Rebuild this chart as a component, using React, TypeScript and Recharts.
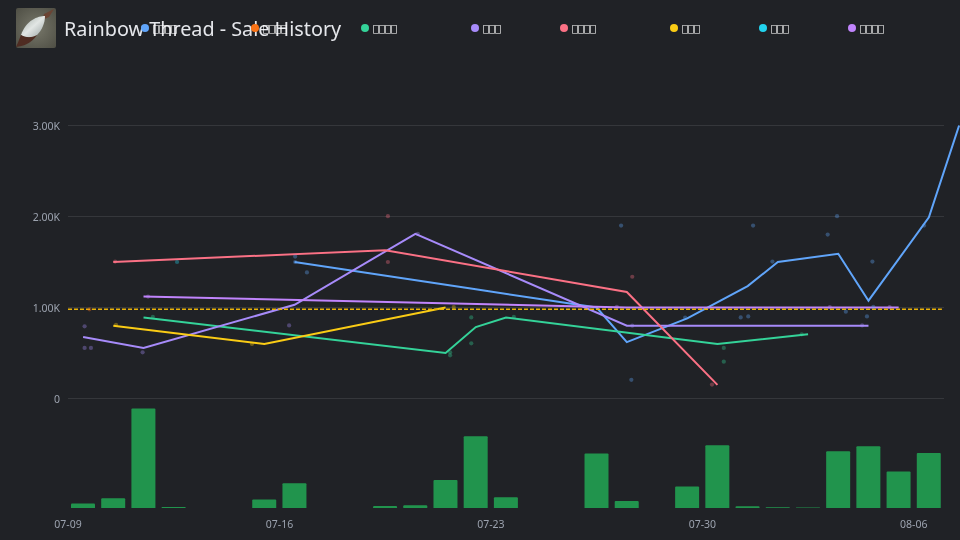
import { Bar, BarChart, CartesianGrid, ComposedChart, Line, ReferenceLine, Scatter, XAxis, YAxis, ZAxis } from 'recharts';

type Point = { day: number; value: number };

const pt = (day: number, value: number): Point => ({ day, value });

// the legend text in the picture is missing-glyph boxes, only the length can be read
const worldNames = ['\uE000\uE000\uE000\uE000', '\uE000\uE000\uE000\uE000', '\uE000\uE000\uE000\uE000', '\uE000\uE000\uE000', '\uE000\uE000\uE000\uE000', '\uE000\uE000\uE000', '\uE000\uE000\uE000', '\uE000\uE000\uE000\uE000'];
const worldColors = ['#60a5fa', '#f97316', '#34d399', '#a78bfa', '#fb7185', '#facc15', '#22d3ee', '#c084fc'];

const dayLabels: Record<number, string> = { 0: '07-09', 7: '07-16', 14: '07-23', 21: '07-30', 28: '08-06' };
const dayTicks = [0, 7, 14, 21, 28];
const priceTicks = [0, 1000, 2000, 3000];
const averagePrice = 980;

// daily average price per world
const dailyBlue = [pt(7.5, 1500), pt(13.5, 1200), pt(17.5, 1000), pt(18.5, 620), pt(20.5, 880), pt(22.5, 1235), pt(23.5, 1500), pt(25.5, 1590), pt(26.5, 1075), pt(28.5, 1990), pt(29.5, 3000)];
const dailyOrange: Point[] = [];
const dailyGreen = [pt(2.5, 890), pt(12.5, 500), pt(13.5, 785), pt(14.5, 890), pt(21.5, 600), pt(24.5, 705)];
const dailyPurple = [pt(0.5, 675), pt(2.5, 555), pt(7.5, 1030), pt(11.5, 1810), pt(18.5, 800), pt(26.5, 800)];
const dailyPink = [pt(1.5, 1500), pt(10.5, 1630), pt(18.5, 1170), pt(21.5, 150)];
const dailyYellow = [pt(1.5, 800), pt(6.5, 600), pt(12.5, 1000)];
const dailyCyan: Point[] = [];
const dailyViolet = [pt(2.5, 1120), pt(18.5, 1000), pt(27.5, 1000)];

// single sales
const salesBlue = [pt(7.52, 1560), pt(7.52, 1500), pt(7.91, 1385), pt(18.31, 1900), pt(18.65, 205), pt(20.43, 888), pt(22.27, 891), pt(22.52, 902), pt(22.68, 1900), pt(23.32, 1505), pt(25.15, 1802), pt(25.46, 2003), pt(25.75, 954), pt(26.45, 902), pt(26.63, 1505), pt(26.66, 1008), pt(28.34, 1900)];
const salesOrange = [pt(0.71, 980)];
const salesGreen = [pt(2.81, 897), pt(12.65, 508), pt(12.65, 475), pt(13.35, 891), pt(13.35, 606), pt(14.76, 896), pt(21.71, 556), pt(21.71, 405), pt(24.29, 705)];
const salesPurple = [pt(0.55, 793), pt(0.55, 556), pt(0.76, 556), pt(2.47, 508), pt(7.32, 803), pt(11.58, 1810), pt(18.68, 800), pt(26.29, 803)];
const salesPink = [pt(1.56, 1505), pt(10.59, 2003), pt(10.59, 1500), pt(18.68, 1338), pt(21.32, 153)];
const salesYellow = [pt(1.59, 810), pt(6.09, 600), pt(12.77, 1005)];
const salesCyan = [pt(3.61, 1500)];
const salesViolet = [pt(2.65, 1120), pt(18.17, 1008), pt(25.22, 1005), pt(27.2, 1005)];

const dailySeries = [dailyBlue, dailyOrange, dailyGreen, dailyPurple, dailyPink, dailyYellow, dailyCyan, dailyViolet];
const salesSeries = [salesBlue, salesOrange, salesGreen, salesPurple, salesPink, salesYellow, salesCyan, salesViolet];

const volumeDays = [0.5, 1.5, 2.5, 3.5, 6.5, 7.5, 10.5, 11.5, 12.5, 13.5, 14.5, 17.5, 18.5, 20.5, 21.5, 22.5, 23.5, 24.5, 25.5, 26.5, 27.5, 28.5];
const volumes = [4.5, 9.7, 99.4, 1, 8.4, 24.7, 2, 2.7, 28, 71.7, 10.7, 54.4, 7, 21.4, 62.7, 1.7, 0.8, 0.6, 56.7, 61.7, 36.4, 55];
const volumeData = volumeDays.map((day, i) => ({ day, volume: volumes[i] }));

const FONT = '"Noto Sans", sans-serif';
const DOMAIN_X: [number, number] = [0, 29.53];
const axisTick = { fill: '#9ca3af', fontSize: 10.5, fontFamily: FONT };

function formatPrice(v: number) {
  return v === 0 ? '0' : `${(v / 1000).toFixed(2)}K`;
}

function ThreadIcon() {
  return (
    <svg width={40} height={40} style={{ position: 'absolute', left: 16, top: 8 }}>
      <defs>
        <radialGradient id="plate" cx="0.5" cy="0.5" r="0.75">
          <stop offset="0" stopColor="#77776a" />
          <stop offset="1" stopColor="#4c4c42" />
        </radialGradient>
        <linearGradient id="cocoon" x1="0" y1="0" x2="1" y2="1">
          <stop offset="0" stopColor="#9fa9a3" />
          <stop offset="0.5" stopColor="#e2e6e4" />
          <stop offset="1" stopColor="#98a2a2" />
        </linearGradient>
      </defs>
      <rect width={40} height={40} rx={2} fill="url(#plate)" />
      <path d="M38 1 L28 6 L26 12 L33 9Z" fill="#6b4434" />
      <path d="M29 8 C22 8 10 12 5 27 C10 30 16 30 21 27 C26 22 29 15 29 8Z" fill="url(#cocoon)" />
      <path d="M5 27 C3 32 1 37 0 39 C7 38 15 36 21 27 C16 30 10 30 5 27Z" fill="#4f2c22" />
    </svg>
  );
}

export default function App() {
  return (
    <div style={{ position: 'absolute', left: 0, top: 0, width: 960, height: 540, overflow: 'hidden', background: '#202226' }}>
      <ThreadIcon />
      <div style={{ position: 'absolute', left: 64, top: 15, fontFamily: FONT, fontSize: 19.8, lineHeight: '28px', color: '#e5e7eb', whiteSpace: 'nowrap', willChange: 'transform' }}>
        Rainbow Thread - Sale History
      </div>
      <div style={{ position: 'absolute', left: 141, top: 20, display: 'flex', height: 16, alignItems: 'center', willChange: 'transform' }}>
        {worldNames.map((name, i) => (
          <div key={i} style={{ width: 26 + 21 * name.length, display: 'flex', alignItems: 'center' }}>
            <span style={{ width: 8, height: 8, borderRadius: 4, background: worldColors[i], marginRight: 4 }} />
            <span style={{ fontFamily: '"DejaVu Sans", sans-serif', fontSize: 10, color: '#ffffff' }}>{name}</span>
          </div>
        ))}
      </div>

      <div style={{ position: 'absolute', left: 0, top: 0, willChange: 'transform' }}>
        <ComposedChart width={960} height={415} margin={{ top: 125.5, right: 0, bottom: 16.5, left: 0 }}>
          <CartesianGrid vertical={false} stroke="#35373b" x={68} width={876} />
          <XAxis type="number" dataKey="day" domain={DOMAIN_X} hide />
          <YAxis type="number" dataKey="value" width={68} domain={[0, 3000]} ticks={priceTicks} interval={0} tickFormatter={formatPrice} tick={{ ...axisTick, dy: 1 }} tickLine={false} axisLine={false} tickMargin={2} />
          <ZAxis range={[14, 14]} />
          {salesSeries.map((sales, i) => (
            <Scatter key={`s${i}`} data={sales} dataKey="value" fill={worldColors[i]} fillOpacity={0.35} isAnimationActive={false} />
          ))}
          {dailySeries.map((daily, i) => (
            <Line key={`l${i}`} data={daily} dataKey="value" type="linear" stroke={worldColors[i]} strokeWidth={2} dot={false} activeDot={false} isAnimationActive={false} />
          ))}
          <ReferenceLine segment={[{ x: 0, y: averagePrice }, { x: 28.93, y: averagePrice }]} stroke="#eab308" strokeDasharray="4 2" strokeWidth={1.5} />
        </ComposedChart>
      </div>

      <div style={{ position: 'absolute', left: 0, top: 400, willChange: 'transform' }}>
        <BarChart width={960} height={140} data={volumeData} margin={{ top: 8, right: 0, bottom: 0, left: 68 }} barSize={24}>
          <XAxis type="number" dataKey="day" domain={DOMAIN_X} ticks={dayTicks} tickFormatter={(d: number) => dayLabels[d]} tick={axisTick} tickLine={false} axisLine={false} height={32} tickMargin={7} />
          <YAxis hide domain={[0, 100]} />
          <Bar dataKey="volume" fill="#22c55e" fillOpacity={0.7} radius={[1, 1, 0, 0]} isAnimationActive={false} />
        </BarChart>
      </div>
    </div>
  );
}
